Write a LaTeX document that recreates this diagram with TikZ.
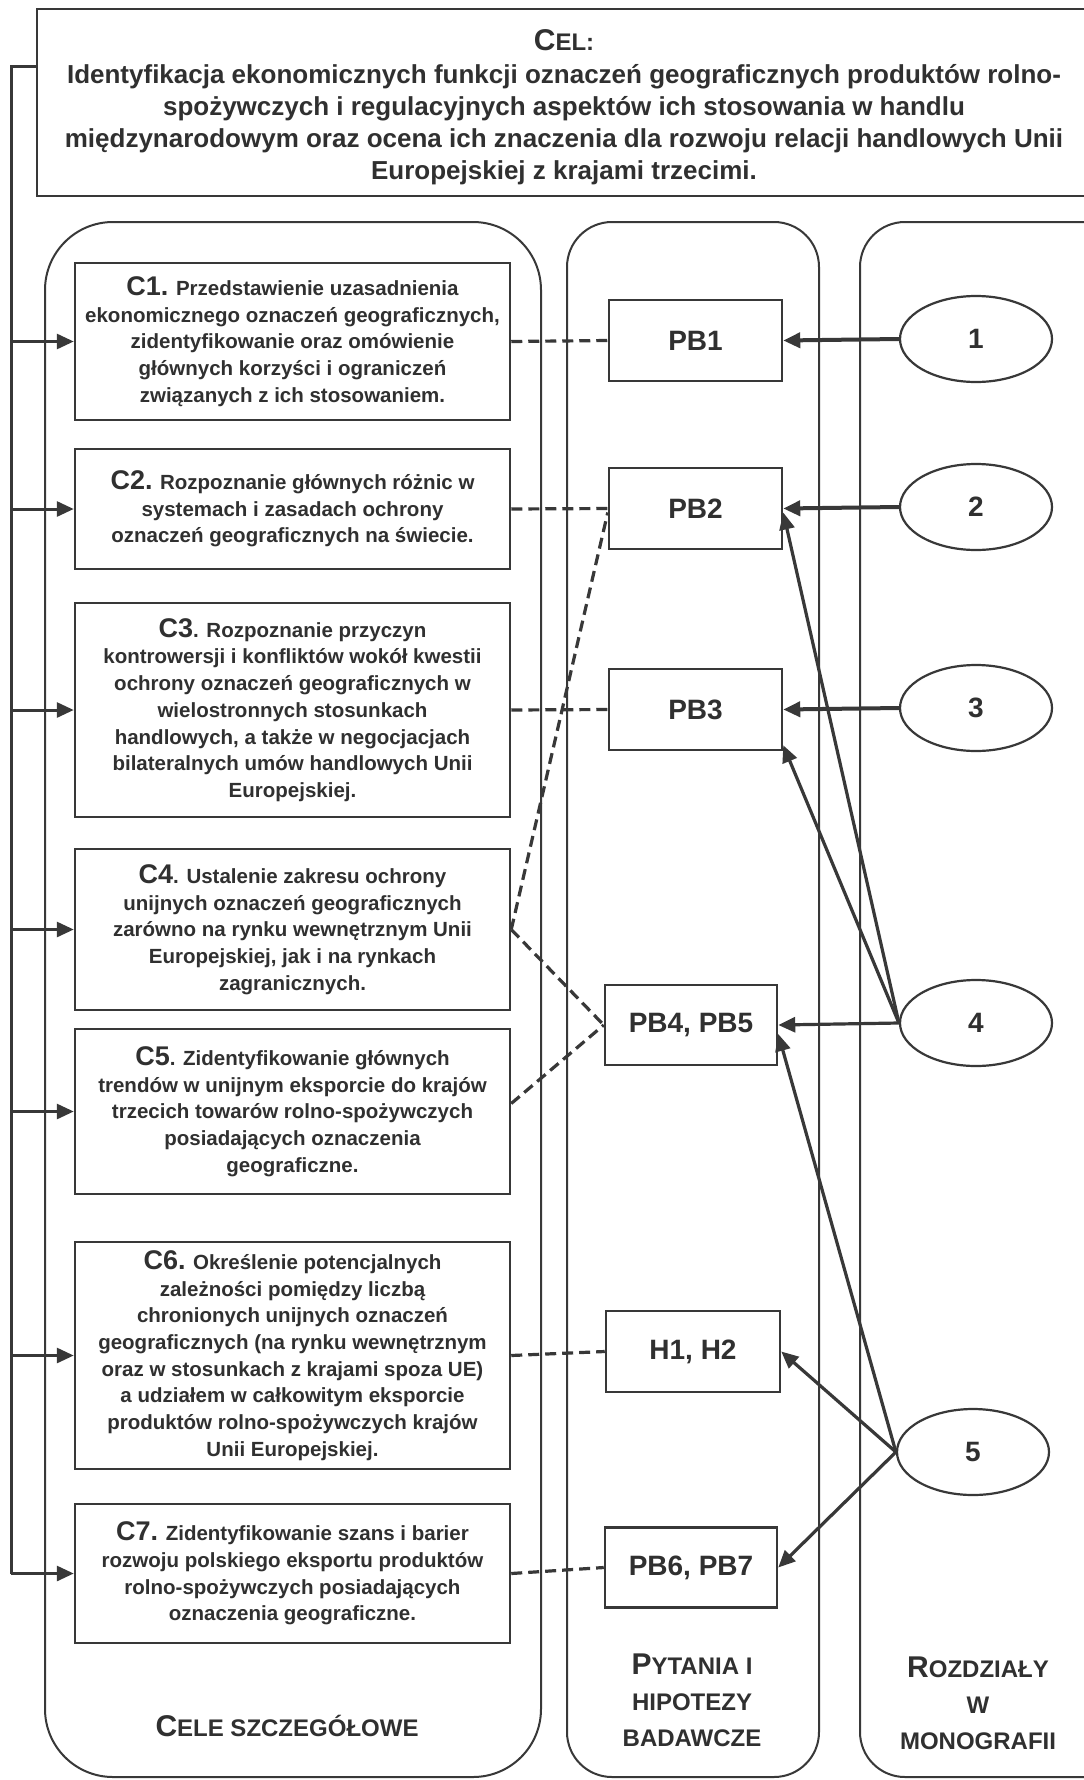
\documentclass[tikz,border=0pt]{standalone}
\usepackage{fontspec}
\setmainfont{Liberation Sans}
\usetikzlibrary{arrows.meta,shapes.geometric}
\definecolor{linec}{HTML}{383838}
\definecolor{txt}{HTML}{303030}
\newcommand\ctext{\fontsize{20.5}{26.7}\selectfont\bfseries}
\newcommand\pbfont{\fontsize{28}{30}\selectfont\bfseries}
\newcommand\celfont{\fontsize{26}{32}\selectfont\bfseries}
\newcommand\cnum[1]{{\fontsize{27}{26.7}\selectfont #1}}
\newcommand\scbig{\fontsize{30}{36}\selectfont\bfseries}
\newcommand\scsmall{\fontsize{24}{36}\selectfont\bfseries}
\begin{document}
\begin{tikzpicture}[x=1pt,y=-1pt,
  lane/.style={draw=linec, line width=2pt},
  cbox/.style={draw=linec, line width=2.5pt, minimum width=435pt, align=center, inner sep=0pt, font=\ctext, text=txt},
  pbox/.style={draw=linec, line width=2.5pt, minimum width=173pt, minimum height=81pt, inner sep=0pt, font=\pbfont, text=txt},
  chap/.style={ellipse, draw=linec, line width=2.2pt, minimum width=152pt, minimum height=86pt, inner sep=0pt, font=\pbfont, text=txt},
  thickarrow/.style={draw=linec, line width=4pt, -{Triangle[length=17pt,width=15pt]}},
  solidarrow/.style={draw=linec, line width=3.2pt, -{Triangle[length=17pt,width=15pt]}},
  fbline/.style={draw=linec, line width=3pt},
  fbarrow/.style={draw=linec, line width=3pt, -{Triangle[length=17pt,width=15pt]}},
  dashline/.style={draw=linec, line width=3.2pt, dash pattern=on 11pt off 6pt},
  lbl/.style={align=center, text=txt, inner sep=0pt}
]
\useasboundingbox (0,0) rectangle (1084,1780);
\fill[white] (0,0) rectangle (1084,1780);

% lanes
\draw[lane, rounded corners=68pt] (45,222) rectangle (541,1777);
\draw[lane, rounded corners=45pt] (567,222) rectangle (819,1777);
\draw[lane, rounded corners=45pt] (860,222) rectangle (1140,1777);

% main goal
\node[draw=linec, line width=2.5pt, minimum width=1058pt, minimum height=187pt, inner sep=0pt] (cel) at (566,102.5) {};
\node[lbl] (celtitle) at (564,40) {{\scbig C}{\scsmall EL:}};
\node[lbl, font=\celfont] (celbody) at (564,125) {Identyfikacja ekonomicznych funkcji oznaczeń geograficznych produktów rolno-\\
spożywczych i regulacyjnych aspektów ich stosowania w handlu\\
międzynarodowym oraz ocena ich znaczenia dla rozwoju relacji handlowych Unii\\
Europejskiej z krajami trzecimi.};

% specific goals
\node[cbox, minimum height=157pt] (c1) at (292.5,341.5) {\cnum{C1.} Przedstawienie uzasadnienia\\ ekonomicznego oznaczeń geograficznych,\\ zidentyfikowanie oraz omówienie\\ głównych korzyści i ograniczeń\\ związanych z ich stosowaniem.};
\node[cbox, minimum height=120pt] (c2) at (292.5,509) {\cnum{C2.} Rozpoznanie głównych różnic w\\ systemach i zasadach ochrony\\ oznaczeń geograficznych na świecie.};
\node[cbox, minimum height=214pt] (c3) at (292.5,710) {\cnum{C3}. Rozpoznanie przyczyn\\ kontrowersji i konfliktów wokół kwestii\\ ochrony oznaczeń geograficznych w\\ wielostronnych stosunkach\\ handlowych, a także w negocjacjach\\ bilateralnych umów handlowych Unii\\ Europejskiej.};
\node[cbox, minimum height=161pt] (c4) at (292.5,929.5) {\cnum{C4}. Ustalenie zakresu ochrony\\ unijnych oznaczeń geograficznych\\ zarówno na rynku wewnętrznym Unii\\ Europejskiej, jak i na rynkach\\ zagranicznych.};
\node[cbox, minimum height=165pt] (c5) at (292.5,1111.5) {\cnum{C5}. Zidentyfikowanie głównych\\ trendów w unijnym eksporcie do krajów\\ trzecich towarów rolno-spożywczych\\ posiadających oznaczenia\\ geograficzne.};
\node[cbox, minimum height=227pt] (c6) at (292.5,1355.5) {\cnum{C6.} Określenie potencjalnych\\ zależności pomiędzy liczbą\\ chronionych unijnych oznaczeń\\ geograficznych (na rynku wewnętrznym\\ oraz w stosunkach z krajami spoza UE)\\ a udziałem w całkowitym eksporcie\\ produktów rolno-spożywczych krajów\\ Unii Europejskiej.};
\node[cbox, minimum height=139pt] (c7) at (292.5,1573.5) {\cnum{C7.} Zidentyfikowanie szans i barier\\ rozwoju polskiego eksportu produktów\\ rolno-spożywczych posiadających\\ oznaczenia geograficzne.};

% questions / hypotheses
\node[pbox] (pb1) at (695.5,340.5) {PB1};
\node[pbox] (pb2) at (695.5,508.5) {PB2};
\node[pbox] (pb3) at (695.5,709.5) {PB3};
\node[pbox, minimum width=172pt, minimum height=80pt] (pb45) at (691,1025) {PB4, PB5};
\node[pbox, minimum width=174pt] (h12) at (693,1351.5) {H1, H2};
\node[pbox, minimum width=172pt, minimum height=80pt] (pb67) at (691,1567.5) {PB6, PB7};

% chapters
\node[chap] (e1) at (976,339) {1};
\node[chap] (e2) at (976,507) {2};
\node[chap] (e3) at (976,708) {3};
\node[chap] (e4) at (976,1023) {4};
\node[chap] (e5) at (973,1452) {5};

% lane labels
\node[lbl, font=\scsmall] (lcele) at (287,1726) {{\scbig C}{\scsmall ELE SZCZEGÓŁOWE}};
\node[lbl, font=\scsmall] (lpyt) at (692,1700) {{\scbig P}YTANIA I\\HIPOTEZY\\BADAWCZE};
\node[lbl, font=\scsmall] (lroz) at (978,1703) {{\scbig R}OZDZIAŁY\\W\\MONOGRAFII};

% feedback line
\coordinate (fbtop) at (11,66);
\coordinate (fbbot) at (11,1573.5);
\draw[fbline] (cel.west |- fbtop) -- (fbtop) -- (fbbot);
\foreach \c in {c1,c2,c3,c4,c5,c6,c7}
  \draw[fbarrow] (fbtop |- \c.west) -- (\c.west);

% dashed links
\draw[dashline] (c1.east) -- (pb1.west);
\draw[dashline] (c2.east) -- (pb2.west);
\draw[dashline] (c3.east) -- (pb3.west);
\draw[dashline] (c4.east) -- ([yshift=-4pt]pb2.west);
\draw[dashline] (c4.east) -- (pb45.west);
\draw[dashline] ([yshift=8pt]c5.east) -- (pb45.west);
\draw[dashline] (c6.east) -- (h12.west);
\draw[dashline] (c7.east) -- (pb67.west);

% chapter arrows
\draw[thickarrow] (e1.west) -- (pb1.east);
\draw[thickarrow] (e2.west) -- (pb2.east);
\draw[thickarrow] (e3.west) -- (pb3.east);
\draw[solidarrow] (e4.west) -- ([yshift=-4pt]pb2.east);
\draw[solidarrow] (e4.west) -- ([yshift=6pt]pb3.south east);
\draw[solidarrow] (e4.west) -- (pb45.east);
\draw[solidarrow] (e5.west) -- ([yshift=-9pt]pb45.east);
\draw[solidarrow] (e5.west) -- (h12.east);
\draw[solidarrow] (e5.west) -- (pb67.east);
\end{tikzpicture}
\end{document}
